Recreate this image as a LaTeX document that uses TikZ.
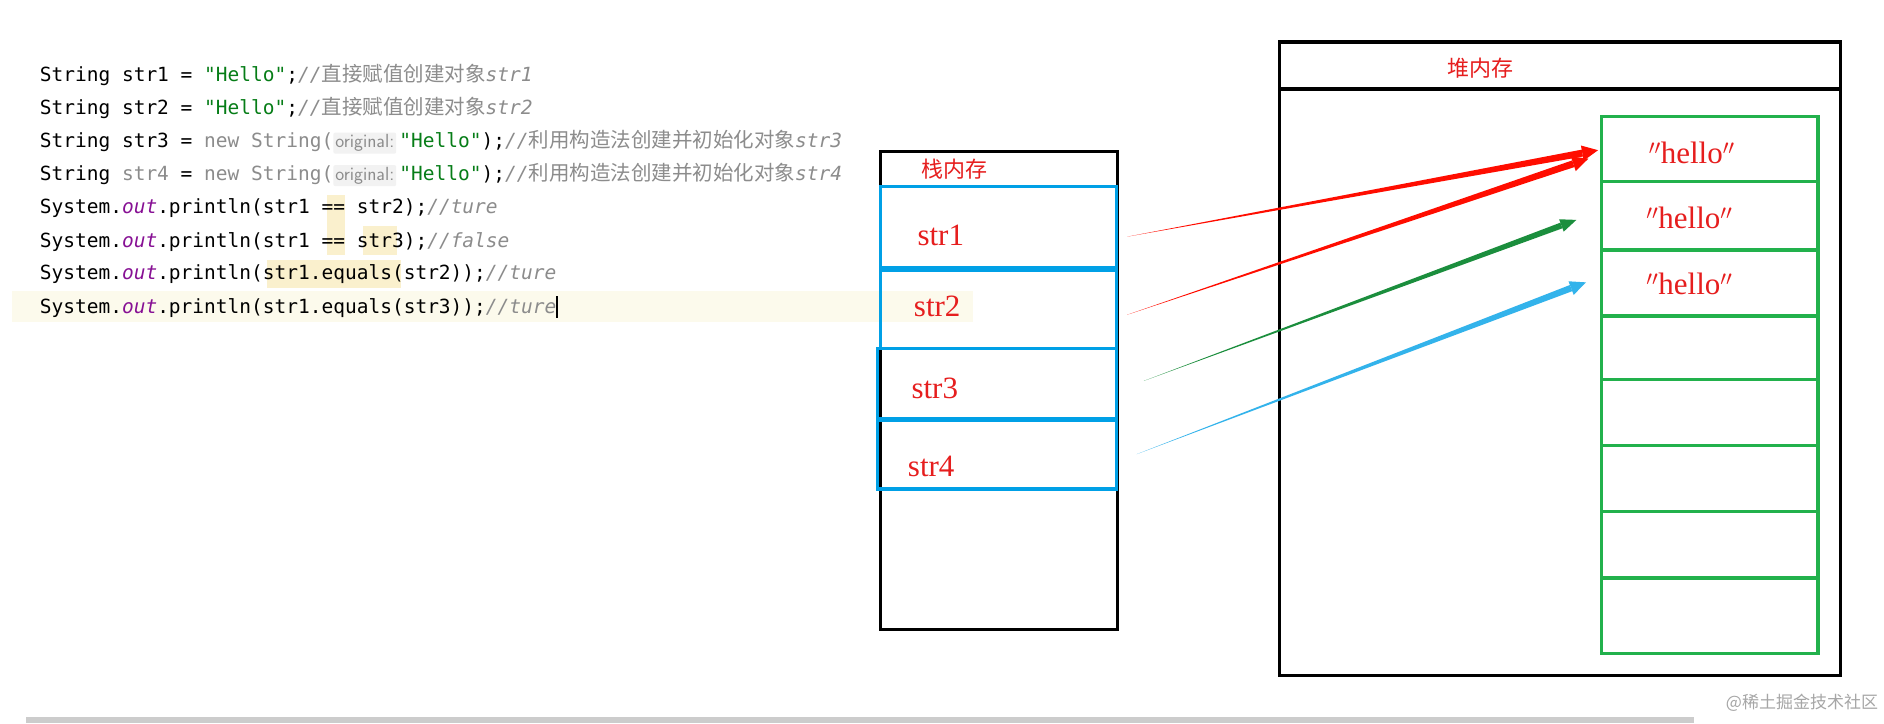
\documentclass[tikz,border=0pt]{standalone}
\usepackage{fontspec}
\setmonofont{DejaVu Sans Mono}
\setmainfont{Liberation Serif}
\newfontfamily\cjk{Noto Sans CJK SC}
\usetikzlibrary{calc}
\definecolor{cgreen}{RGB}{6,125,23}
\definecolor{cgray}{RGB}{140,140,140}
\definecolor{cpurple}{RGB}{135,16,148}
\definecolor{sblue}{RGB}{0,160,230}
\definecolor{hgreen}{RGB}{34,177,76}
\definecolor{lred}{RGB}{230,30,30}
\definecolor{hl}{RGB}{250,240,205}
\definecolor{lastline}{RGB}{252,250,236}
\newcommand{\cm}[1]{\textcolor{cgray}{\itshape #1}}
\newcommand{\cmcjk}[1]{\textcolor{cgray}{{\cjk\fontsize{20.5}{20.5}\selectfont #1}}}
\newcommand{\hint}{\tikz[baseline=(h.base)]\node[fill=black!5,inner sep=2pt,rounded corners=2pt,font=\sffamily\fontsize{19}{19}\selectfont,text=cgray](h){original:};}
\newcommand{\tapered}[5]{% start, tip, color, halfwidth, name
  \coordinate (#5b) at ($(#2)!16pt!(#1)$);
  \fill[#3] (#1) -- ($(#5b)!#4!90:(#1)$) -- ($(#5b)!#4!-90:(#1)$) -- cycle;
  \fill[#3] (#2) -- ($(#5b)!#4*2.2!90:(#1)$) -- ($(#5b)!#4*2.2!-90:(#1)$) -- cycle;}
\begin{document}
\begin{tikzpicture}[x=1.2015pt,y=-1.2015pt,
  code/.style={anchor=base west,inner sep=0pt,font=\ttfamily\fontsize{19.5}{19.5}\selectfont},
  lbl/.style={text=lred,font=\fontsize{31}{31}\selectfont},
  cjklbl/.style={text=lred,font=\cjk\fontsize{22}{22}\selectfont},
  sbox/.style={draw=sblue,line width=3.2pt},
  hbox/.style={draw=hgreen,line width=3.2pt},
  frame/.style={draw=black,line width=3.2pt}]
\useasboundingbox (0,0) rectangle (1568,602);
\fill[white] (0,0) rectangle (1568,602);
% line highlights
\fill[lastline] (10,242) rectangle (810,268);
\fill[hl] (272,162) rectangle (287,190);
\fill[hl] (272,188) rectangle (287,212);
\fill[hl] (302,188) rectangle (330,212);
\fill[hl] (222,216) rectangle (334,240);
% scrollbar
\fill[black!20] (22,597) rectangle (1410,602);
% code
\node[code] (l1) at (33,68) {String str1 = \textcolor{cgreen}{"Hello"};\cm{//}\cmcjk{直接赋值创建对象}\cm{str1}};
\node[code] (l2) at (33,95) {String str2 = \textcolor{cgreen}{"Hello"};\cm{//}\cmcjk{直接赋值创建对象}\cm{str2}};
\node[code] (l3) at (33,123) {String str3 = \textcolor{cgray}{new String(}\hint\,\textcolor{cgreen}{"Hello"});\cm{//}\cmcjk{利用构造法创建并初始化对象}\cm{str3}};
\node[code] (l4) at (33,150) {String \textcolor{cgray}{str4} = \textcolor{cgray}{new String(}\hint\,\textcolor{cgreen}{"Hello"});\cm{//}\cmcjk{利用构造法创建并初始化对象}\cm{str4}};
\node[code] (l5) at (33,178) {System.\textcolor{cpurple}{\itshape out}.println(str1 == str2);\cm{//ture}};
\node[code] (l6) at (33,206) {System.\textcolor{cpurple}{\itshape out}.println(str1 == str3);\cm{//false}};
\node[code] (l7) at (33,233) {System.\textcolor{cpurple}{\itshape out}.println(str1.equals(str2));\cm{//ture}};
\node[code] (l8) at (33,261) {System.\textcolor{cpurple}{\itshape out}.println(str1.equals(str3));\cm{//ture}\rule[-4pt]{1.3pt}{22pt}};
% stack
\draw[frame] (733,126) rectangle (930,524);
\draw[frame] (733,126) -- (930,126) (733,155) -- (930,155);
\node[cjklbl] (sk) at (794,141) {栈内存};
\draw[sbox] (733,155) rectangle (929,223);
\draw[sbox] (733,225) rectangle (929,290);
\draw[sbox] (730,290) rectangle (929,348);
\draw[sbox] (730,350) rectangle (929,407);
\node[lbl] (s1) at (783,196) {str1};
\node[lbl] (s2) at (780,255) {str2};
\node[lbl] (s3) at (778,323) {str3};
\node[lbl] (s4) at (775,388) {str4};
% heap
\draw[frame] (1065,35) rectangle (1532,562);
\draw[frame] (1065,74) -- (1532,74);
\node[cjklbl] (hp) at (1232,57) {堆内存};
\foreach \a/\b [count=\i] in {97/151,151/208,208/263,263/316,316/371,371/426,426/481,481/544}
  \draw[hbox] (1333,\a) rectangle (1513,\b);
\node[lbl] (h1) at (1408,127) {$''$hello$''$};
\node[lbl] (h2) at (1406,181) {$''$hello$''$};
\node[lbl] (h3) at (1406,236) {$''$hello$''$};
% arrows
\coordinate (a1) at (938,197); \coordinate (t1) at (1330,125);
\coordinate (a2) at (938,262); \coordinate (t2) at (1322,132);
\coordinate (a3) at (952,317); \coordinate (t3) at (1312,183);
\coordinate (a4) at (946,378); \coordinate (t4) at (1320,235);
\tapered{a1}{t1}{red!90!orange}{3.5pt}{x1}
\tapered{a2}{t2}{red!90!orange}{3.5pt}{x2}
\tapered{a3}{t3}{hgreen!80!black}{3pt}{x3}
\tapered{a4}{t4}{sblue!80!white}{3.3pt}{x4}
% watermark
\node[text=black!35,font=\cjk\fontsize{17}{17}\selectfont,anchor=east] (wm) at (1566,585) {@稀土掘金技术社区};
\end{tikzpicture}
\end{document}
